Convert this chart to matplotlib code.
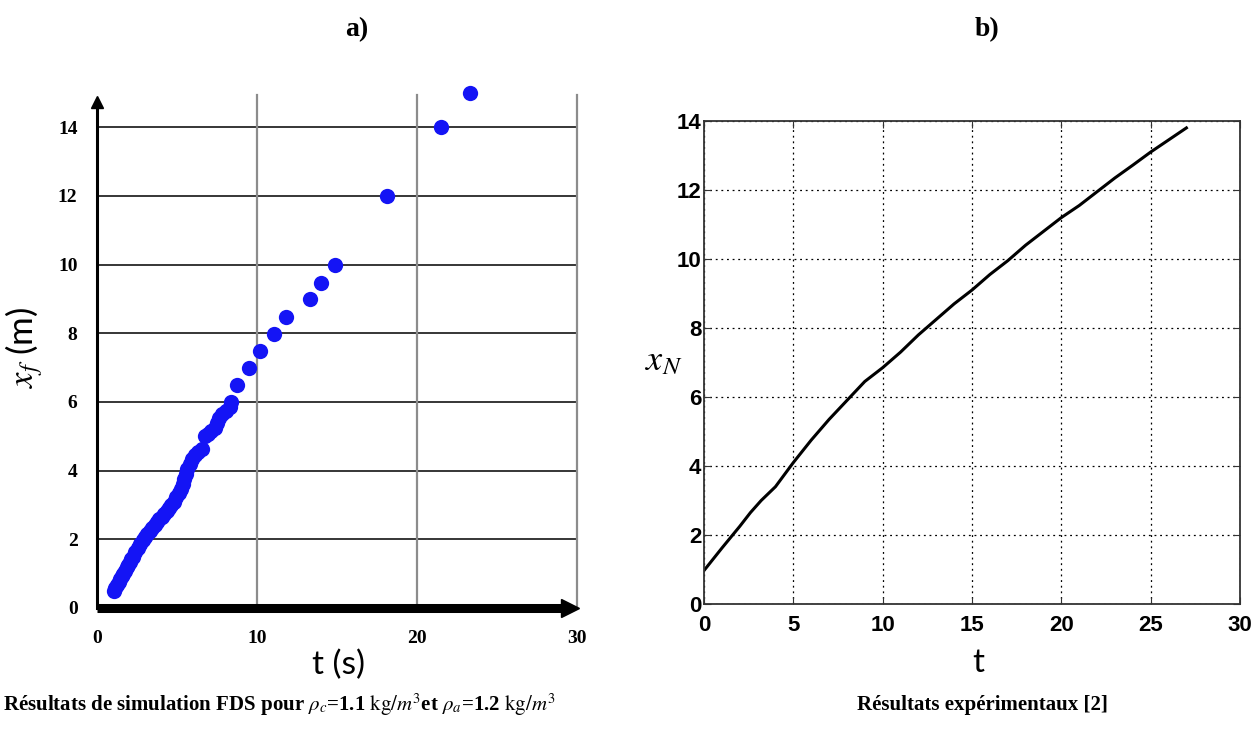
import numpy as np
import matplotlib
matplotlib.use("Agg")
import matplotlib.pyplot as plt

plt.rcParams['mathtext.fontset'] = 'stix'
plt.rcParams['font.family'] = ['Liberation Serif', 'DejaVu Serif']

# a) simulation FDS : position du front x_f (m) en fonction de t (s)
t_fds = [1.05, 1.15, 1.25, 1.35, 1.45, 1.55, 1.65, 1.75, 1.85, 1.95,
         2.05, 2.15, 2.25, 2.40, 2.55, 2.70, 2.85, 3.00, 3.15, 3.30,
         3.45, 3.60, 3.75, 3.90, 4.05, 4.20, 4.35, 4.50, 4.65, 4.80,
         4.95, 5.10, 5.25, 5.35, 5.45, 5.55, 5.65, 5.80, 5.95, 6.10,
         6.30, 6.55, 6.75, 6.95, 7.15, 7.35, 7.50, 7.65, 7.80, 8.05,
         8.30, 8.40, 8.76, 9.50, 10.2, 11.06, 11.8, 13.3, 14.0, 14.9,
         18.1, 21.5, 23.3]
xf_fds = [0.50, 0.58, 0.67, 0.76, 0.84, 0.92, 1.00, 1.09, 1.18, 1.26,
          1.34, 1.42, 1.50, 1.62, 1.74, 1.86, 1.97, 2.06, 2.15, 2.24,
          2.33, 2.41, 2.50, 2.58, 2.66, 2.74, 2.83, 2.92, 3.01, 3.10,
          3.22, 3.35, 3.48, 3.60, 3.75, 3.90, 4.05, 4.20, 4.33, 4.45,
          4.55, 4.62, 5.00, 5.08, 5.15, 5.25, 5.38, 5.52, 5.65, 5.75,
          5.85, 6.00, 6.50, 7.00, 7.50, 7.97, 8.49, 8.99, 9.48, 10.0,
          12.0, 14.0, 15.0]

# b) resultats experimentaux
t_exp = [0, 1, 2, 2.6, 3.2, 4, 5, 6, 7, 8, 9, 10, 11, 12, 13, 14, 15,
         16, 17, 18, 19, 20, 21, 22, 23, 24, 25, 26, 27]
xn_exp = [0.97, 1.62, 2.25, 2.65, 3.0, 3.4, 4.1, 4.75, 5.35, 5.9, 6.45,
          6.85, 7.3, 7.8, 8.25, 8.7, 9.1, 9.55, 9.95, 10.4, 10.8, 11.2,
          11.55, 11.95, 12.35, 12.72, 13.1, 13.45, 13.8]

ticks_a_x = [0, 10, 20, 30]
ticks_a_y = [0, 2, 4, 6, 8, 10, 12, 14]
ticks_b_x = [0, 5, 10, 15, 20, 25, 30]
ticks_b_y = [0, 2, 4, 6, 8, 10, 12, 14]

fig = plt.figure(figsize=(12.58, 7.38), dpi=100)

# ---------- a) ----------
ax1 = fig.add_axes([97 / 1258, 130 / 738, 480 / 1258, 515 / 738])
ax1.set_xlim(0, 30)
ax1.set_ylim(0, 15)
for s in ax1.spines.values():
    s.set_visible(False)

for yv in ticks_a_y[1:]:
    ax1.plot([0, 30], [yv, yv], color='black', lw=1.1, zorder=1)
for xv in ticks_a_x[1:]:
    ax1.plot([xv, xv], [0, 14.95], color='#8c8c8c', lw=1.6, zorder=1, clip_on=False)

# axes fléchés
ax1.plot([0, 0], [0, 14.6], color='black', lw=2.2, zorder=3, clip_on=False)
ax1.plot(0, 14.75, marker='^', ms=8, color='black', zorder=3, clip_on=False)
ax1.plot([0, 29.3], [0, 0], color='black', lw=6.5, zorder=3, clip_on=False,
         solid_capstyle='butt')
ax1.plot(29.55, 0, marker='>', ms=13, color='black', zorder=3, clip_on=False)

ax1.plot(t_fds, xf_fds, 'o', color='#1414f5', ms=11, mec='none', zorder=4,
         clip_on=False)

ax1.set_xticks(ticks_a_x)
ax1.set_yticks(ticks_a_y)
ax1.tick_params(length=0, labelsize=14)
ax1.tick_params(axis='x', pad=16)
ax1.tick_params(axis='y', pad=14)
for lab in ax1.get_xticklabels() + ax1.get_yticklabels():
    lab.set_fontweight('bold')

fig.text(338 / 1258, 1 - 665 / 738, 't (s)', family=['Lato', 'DejaVu Sans'],
         fontsize=24, ha='center', va='center')
fig.text(24 / 1258, 1 - 347 / 738, r'$x_f$ (m)', family=['Lato', 'DejaVu Sans'],
         fontsize=25, rotation=90, ha='center', va='center')

# ---------- b) ----------
ax2 = fig.add_axes([704 / 1258, 134 / 738, 536 / 1258, 483 / 738])
ax2.plot(t_exp, xn_exp, color='black', lw=2.2)
ax2.set_xlim(0, 30)
ax2.set_ylim(0, 14)
ax2.set_xticks(ticks_b_x)
ax2.set_yticks(ticks_b_y)
ax2.grid(True, color='black', linestyle=(0, (1.5, 3)), lw=0.9)
for s in ax2.spines.values():
    s.set_color('#333333')
    s.set_linewidth(1.3)
ax2.tick_params(direction='in', length=5, top=True, right=True,
                labelsize=16, color='#333333')
ax2.tick_params(axis='x', pad=8)
ax2.tick_params(axis='y', pad=2)
for lab in ax2.get_xticklabels() + ax2.get_yticklabels():
    lab.set_fontweight('bold')
    lab.set_family(['Liberation Sans Narrow', 'Liberation Sans', 'DejaVu Sans'])

fig.text(978 / 1258, 1 - 663 / 738, 't', family=['Lato', 'DejaVu Sans'],
         fontsize=24, ha='center', va='center')
fig.text(664 / 1258, 1 - 362 / 738, r'$x_N$', fontsize=26,
         ha='center', va='center')

# titres et légendes
fig.text(357 / 1258, 1 - 30 / 738, 'a)', fontsize=20, fontweight='bold',
         ha='center', va='center')
fig.text(987 / 1258, 1 - 30 / 738, 'b)', fontsize=20, fontweight='bold',
         ha='center', va='center')
fig.text(3 / 1258, 1 - 705 / 738,
         r'Résultats de simulation FDS pour $\rho_c$=1.1 $\mathrm{kg}/m^3$et '
         r'$\rho_a$=1.2 $\mathrm{kg}/m^3$',
         fontsize=15, fontweight='bold', ha='left', va='center')
fig.text(982 / 1258, 1 - 705 / 738, 'Résultats expérimentaux [2]',
         fontsize=15, fontweight='bold', ha='center', va='center')

fig.savefig('out.png', dpi=100)
